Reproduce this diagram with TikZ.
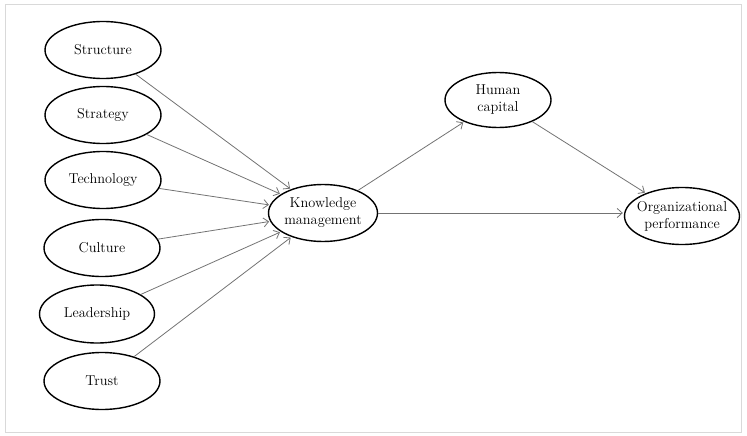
\documentclass[tikz,border=0pt]{standalone}
\usetikzlibrary{shapes.geometric,arrows.meta}
\begin{document}
\begin{tikzpicture}[x=1pt,y=-1pt,
  var/.style={draw=black, line width=1.4pt, ellipse, inner sep=0pt, align=center,
    font=\fontsize{14.3}{17}\selectfont},
  conn/.style={draw=black!55, line width=0.8pt, -{Straight Barb[length=5pt,width=9pt]}, shorten >=1pt, shorten <=0pt}]
\useasboundingbox (0,0) rectangle (747,436);
\draw[black!15, line width=1pt] (5,5) rectangle (741,432);
\node[var, minimum width=116pt, minimum height=57pt] (st) at (103,50) {Structure};
\node[var, minimum width=116pt, minimum height=57pt] (sg) at (103,115) {Strategy};
\node[var, minimum width=116pt, minimum height=57pt] (te) at (103,180) {Technology};
\node[var, minimum width=116pt, minimum height=57pt] (cu) at (102,248) {Culture};
\node[var, minimum width=115pt, minimum height=58pt] (le) at (97,314) {Leadership};
\node[var, minimum width=116pt, minimum height=57pt] (tr) at (102,381) {Trust};
\node[var, minimum width=109pt, minimum height=57pt, inner xsep=-4pt, inner ysep=-4pt] (km) at (323,213) {Knowledge\\management};
\node[var, minimum width=106pt, minimum height=55pt, inner ysep=-4pt] (hc) at (498,100) {Human\\capital};
\node[var, minimum width=115pt, minimum height=57pt, inner xsep=-9pt, inner ysep=-4pt] (op) at (682,216) {Organizational\\performance};
\draw[conn] (st) -- (km);
\draw[conn] (sg) -- (km);
\draw[conn] (te) -- (km);
\draw[conn] (cu) -- (km);
\draw[conn] (le) -- (km);
\draw[conn] (tr) -- (km);
\draw[conn] (km) -- (hc);
\draw[conn] (km.east) -- (op.west |- km.east);
\draw[conn] (hc) -- (op);
\end{tikzpicture}
\end{document}
